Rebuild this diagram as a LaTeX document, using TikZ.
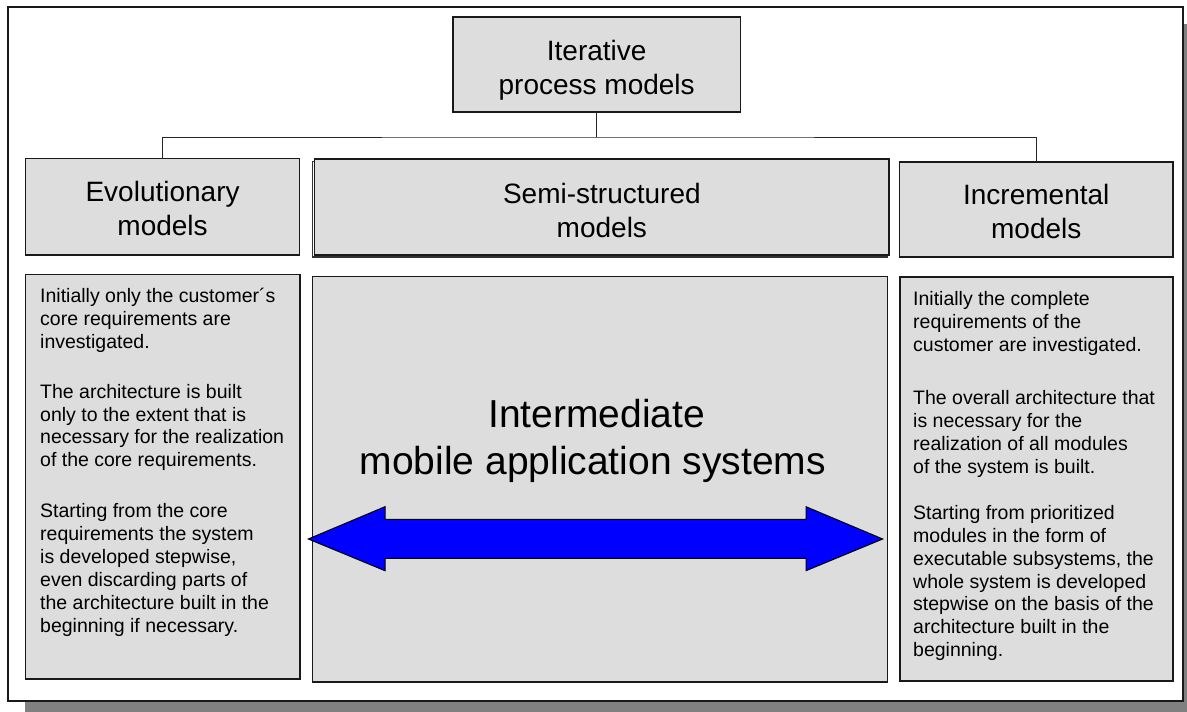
\documentclass[tikz,border=0pt]{standalone}
\usepackage{fontspec}
\setmainfont{Liberation Sans}
\begin{document}
\begin{tikzpicture}[x=1pt,y=-1pt,
  boxline/.style={draw=black!90, line width=1.2pt},
  graybox/.style={boxline, fill=boxgray, inner sep=0pt, outer sep=0pt, rectangle},
  headtext/.style={inner sep=0pt, align=center, font=\fontsize{28}{34}\selectfont},
  bodytext/.style={inner sep=0pt, align=left, anchor=north west, font=\fontsize{19.5}{22.9}\selectfont},
  bigtext/.style={inner sep=0pt, align=center, font=\fontsize{39}{47}\selectfont},
  conn/.style={draw=black!85, line width=1pt},
]
\definecolor{boxgray}{HTML}{DDDDDD}
\definecolor{shadowgray}{HTML}{808080}
\definecolor{arrowblue}{HTML}{0000FF}
\useasboundingbox (0,0) rectangle (1187,712);
% frame shadow and frame
\fill[shadowgray] (25,24) rectangle (1205,725);
\filldraw[fill=white, draw=black!90, line width=1.6pt] (8,7) rectangle (1183,701);

% header boxes
\node[graybox, minimum width=287.4pt, minimum height=95pt] (top) at (596.7,64.5) {};
\node[headtext] (toptxt) at (596.7,70) {Iterative\\process models};

\node[graybox, minimum width=273.9pt, minimum height=96.5pt] (evol) at (162.6,206.75) {};
\node[headtext] (evoltxt) at (162.6,208.5) {Evolutionary\\models};

\draw[draw=black!80, line width=1.4pt] (312.6,161.2) rectangle (887.2,256.8);
\node[graybox, minimum width=574.3pt, minimum height=96pt] (semi) at (601.85,207) {};
\node[headtext] (semitxt) at (601.85,210) {Semi-structured\\models};

\node[graybox, minimum width=273.5pt, minimum height=95pt] (incr) at (1036.25,209.5) {};
\node[headtext] (incrtxt) at (1036.25,211) {Incremental\\models};

% connectors
\coordinate (bus) at (596.7,137);
\draw[conn] (top.south) -- (bus);
\draw[conn] (evol.north) |- (bus) -| (incr.north);

% lower boxes
\node[graybox, minimum width=274.4pt, minimum height=404.7pt] (evoltext) at (162.8,476.65) {};
\node[graybox, minimum width=575pt, minimum height=405.3pt] (mid) at (600,479.35) {};
\node[graybox, minimum width=273pt, minimum height=404pt] (incrtext) at (1036.5,479) {};

\node[bodytext] (evolbody) at (40,288.2) {Initially only the customer´s\\
core requirements are\\
investigated.\\[26.7pt]
The architecture is built\\
only to the extent that is\\
necessary for the realization\\
of the core requirements.\\[28pt]
Starting from the core\\
requirements the system\\
is developed stepwise,\\
even discarding parts of\\
the architecture built in the\\
beginning if necessary.};

\node[bodytext] (incrbody) at (913,291) {Initially the complete\\
requirements of the\\
customer are investigated.\\[30.3pt]
The overall architecture that\\
is necessary for the\\
realization of all modules\\
of the system is built.\\[23.4pt]
Starting from prioritized\\
modules in the form of\\
executable subsystems, the\\
whole system is developed\\
stepwise on the basis of the\\
architecture built in the\\
beginning.};

\node[bigtext] (midtxt) at (596.6,440.6) {Intermediate\\mobile application systems\hspace*{7.6pt}};

% double arrow
\filldraw[fill=arrowblue, draw=black, line width=1pt, line join=miter]
  (308.3,539) -- (385,506.7) -- (385,519.3) -- (806,519.3) -- (806,506.7)
  -- (882.7,539) -- (806,570.7) -- (806,558.3) -- (385,558.3) -- (385,570.7) -- cycle;
\end{tikzpicture}
\end{document}
